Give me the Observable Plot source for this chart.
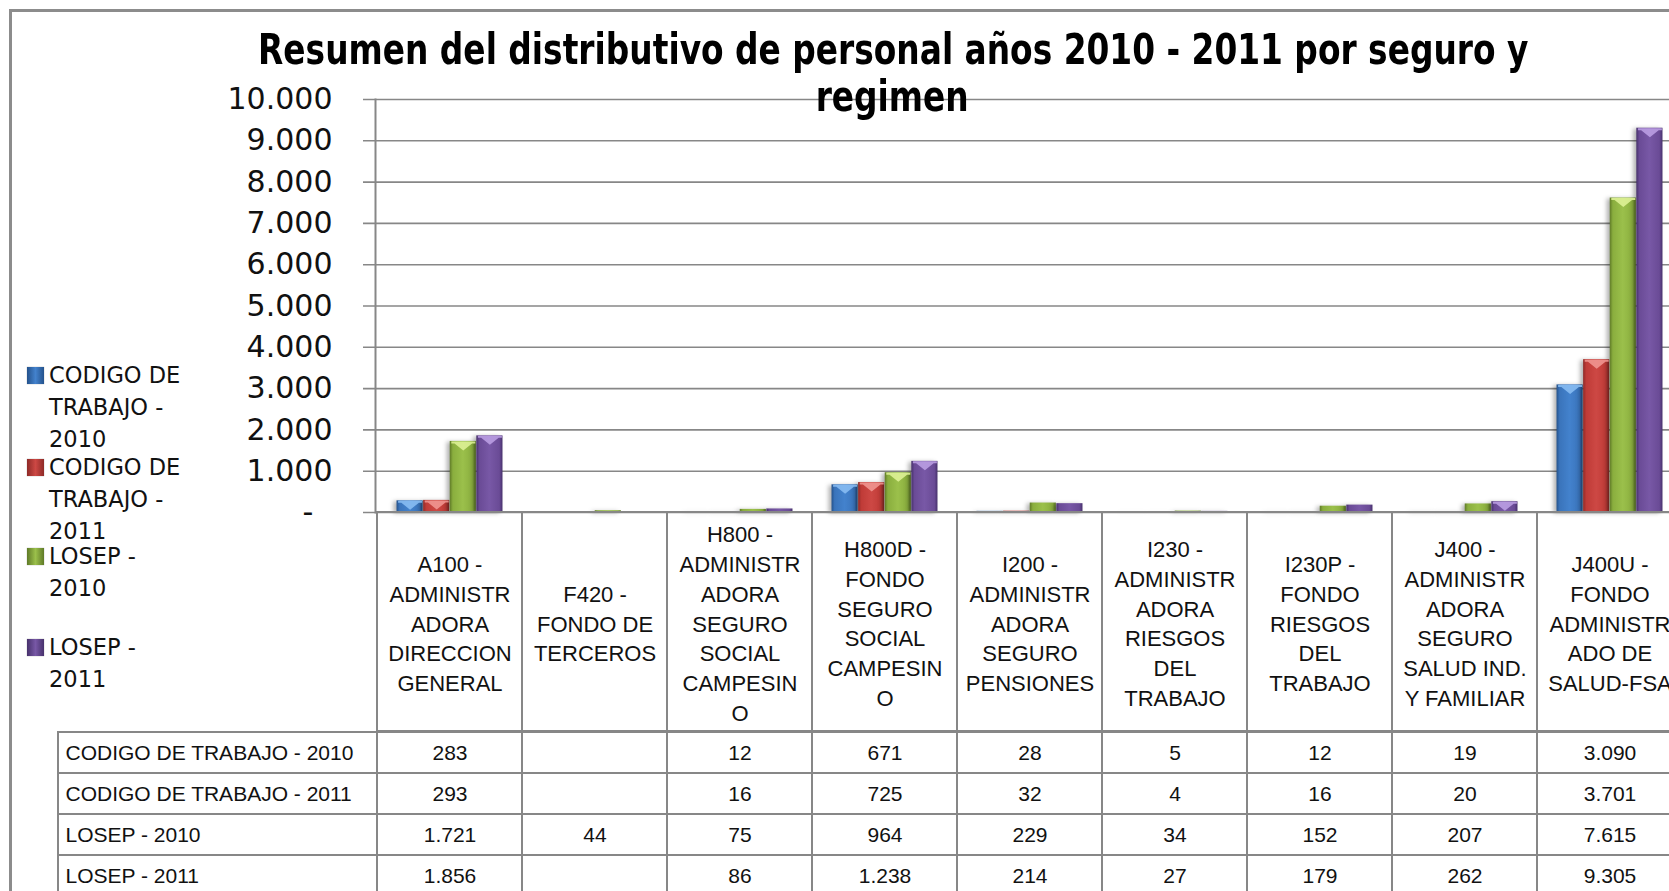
<!DOCTYPE html>
<html><head><meta charset="utf-8">
<script src="https://cdn.jsdelivr.net/npm/d3@7"></script>
<script src="https://cdn.jsdelivr.net/npm/@observablehq/plot@0.6"></script>
<style>
html,body{margin:0;padding:0;background:#fff;}
#wrap{position:relative;width:1669px;height:891px;overflow:hidden;background:#fff;}
#border{position:absolute;left:9px;top:9px;width:2000px;height:2000px;border-left:3px solid #8c8c8c;border-top:3px solid #8c8c8c;}
.pl{position:absolute;left:0;width:1700px;}
.tline{position:absolute;white-space:nowrap;font-family:"Liberation Sans Narrow","DejaVu Sans Condensed","Liberation Sans",sans-serif;font-weight:bold;font-size:43px;line-height:38px;height:38px;color:#000;transform-origin:center center;}
.leg{position:absolute;font-family:"DejaVu Sans",sans-serif;font-size:22.5px;line-height:24px;height:24px;color:#111;white-space:nowrap;}
.sw{position:absolute;width:17px;height:17px;box-shadow:0 0 1px rgba(0,0,0,.4);}
#p1 g[aria-label="bar"]{filter:drop-shadow(-3px 1px 2px rgba(0,0,0,.3));}
</style></head>
<body>
<svg width="0" height="0" style="position:absolute">
<defs>
<linearGradient id="g0" x1="0" x2="1" y1="0" y2="0"><stop offset="0" stop-color="#24528c"/><stop offset="0.12" stop-color="#3a74bb"/><stop offset="0.5" stop-color="#4382cd"/><stop offset="0.88" stop-color="#3a74bb"/><stop offset="1" stop-color="#24528c"/></linearGradient>
<linearGradient id="g1" x1="0" x2="1" y1="0" y2="0"><stop offset="0" stop-color="#8e2a27"/><stop offset="0.12" stop-color="#bf3b37"/><stop offset="0.5" stop-color="#cd4844"/><stop offset="0.88" stop-color="#bf3b37"/><stop offset="1" stop-color="#8e2a27"/></linearGradient>
<linearGradient id="g2" x1="0" x2="1" y1="0" y2="0"><stop offset="0" stop-color="#5f7a27"/><stop offset="0.12" stop-color="#8aae3e"/><stop offset="0.5" stop-color="#9bc04b"/><stop offset="0.88" stop-color="#8aae3e"/><stop offset="1" stop-color="#5f7a27"/></linearGradient>
<linearGradient id="g3" x1="0" x2="1" y1="0" y2="0"><stop offset="0" stop-color="#47316c"/><stop offset="0.12" stop-color="#6a4b96"/><stop offset="0.5" stop-color="#7858a6"/><stop offset="0.88" stop-color="#6a4b96"/><stop offset="1" stop-color="#47316c"/></linearGradient>
</defs>
</svg>
<div id="wrap"><div id="border"></div></div>
<script>
// ---------- data ----------
const categories = ["A100","F420","H800","H800D","I200","I230","I230P","J400","J400U"];
const categoryLabels = [
  "A100 -\nADMINISTR\nADORA\nDIRECCION\nGENERAL",
  "F420 -\nFONDO DE\nTERCEROS",
  "H800 -\nADMINISTR\nADORA\nSEGURO\nSOCIAL\nCAMPESIN\nO",
  "H800D -\nFONDO\nSEGURO\nSOCIAL\nCAMPESIN\nO",
  "I200 -\nADMINISTR\nADORA\nSEGURO\nPENSIONES",
  "I230 -\nADMINISTR\nADORA\nRIESGOS\nDEL\nTRABAJO",
  "I230P -\nFONDO\nRIESGOS\nDEL\nTRABAJO",
  "J400 -\nADMINISTR\nADORA\nSEGURO\nSALUD IND.\nY FAMILIAR",
  "J400U -\nFONDO\nADMINISTR\nADO DE\nSALUD-FSA"
];
const seriesNames = ["CODIGO DE TRABAJO - 2010","CODIGO DE TRABAJO - 2011","LOSEP - 2010","LOSEP - 2011"];
const legendLines = [["CODIGO DE","TRABAJO -","2010"],["CODIGO DE","TRABAJO -","2011"],["LOSEP -","2010"],["LOSEP -","2011"]];
const codigo2010 = [283, null, 12, 671, 28, 5, 12, 19, 3090];
const codigo2011 = [293, null, 16, 725, 32, 4, 16, 20, 3701];
const losep2010  = [1721, 44, 75, 964, 229, 34, 152, 207, 7615];
const losep2011  = [1856, null, 86, 1238, 214, 27, 179, 262, 9305];
const yTicks = [0,1000,2000,3000,4000,5000,6000,7000,8000,9000,10000];
const titleLines = ["Resumen del distributivo de personal años 2010 - 2011 por seguro y","regimen"];

const seriesValues = [codigo2010, codigo2011, losep2010, losep2011];
const fills = ["url(#g0)","url(#g1)","url(#g2)","url(#g3)"];
const swatchCss = [
  "linear-gradient(90deg,#24528c,#4382cd 50%,#24528c)",
  "linear-gradient(90deg,#8e2a27,#cd4844 50%,#8e2a27)",
  "linear-gradient(90deg,#5f7a27,#9bc04b 50%,#5f7a27)",
  "linear-gradient(90deg,#47316c,#7858a6 50%,#47316c)"];
const chevronFill = ["#8cc0f5","#f29a95","#e2f59a","#bea2e6"];

const rows = [];
seriesNames.forEach((s, i) => categories.forEach((c, j) => rows.push({series: s, si: i, cat: c, value: seriesValues[i][j]})));

const loc = d3.formatLocale({decimal: ",", thousands: ".", grouping: [3], currency: ["$", ""]});
const fmt = loc.format(",d");

// ---------- layout ----------
const W = 1700, LEFT = 375, RIGHT = 1684;
const B = (RIGHT - LEFT) / categories.length;
const BW = 26.6, PAD = (B - 4 * BW) / 2;
const GRID = "#878787";
const wrap = document.getElementById("wrap");

const chevron = {draw(ctx) {
  ctx.moveTo(-12, 0); ctx.lineTo(12, 0); ctx.lineTo(12, 2); ctx.lineTo(-12, 2); ctx.closePath();
  ctx.moveTo(-10, 1); ctx.lineTo(10, 1); ctx.lineTo(0, 9); ctx.closePath();
}};

// ---------- Plot 1 : bars ----------
const barMarks = [];
seriesNames.forEach((s, i) => {
  const d = rows.filter(r => r.si === i && r.value != null);
  barMarks.push(Plot.barY(d, {x: "cat", y: "value", fill: fills[i], insetLeft: PAD + i * BW, insetRight: PAD + (3 - i) * BW}));
});
seriesNames.forEach((s, i) => {
  const d = rows.filter(r => r.si === i && r.value != null && r.value >= 250);
  barMarks.push(Plot.dot(d, {x: "cat", y: "value", symbol: chevron, r: 5, fill: chevronFill[i], fillOpacity: 0.85, stroke: null, dx: PAD + (i + 0.5) * BW - B / 2}));
});

const p1 = Plot.plot({
  width: W, height: 513,
  marginLeft: LEFT, marginRight: W - RIGHT, marginTop: 99, marginBottom: 1,
  style: {fontFamily: "DejaVu Sans, sans-serif", fontSize: "30px", color: "#111", background: "transparent", overflow: "visible"},
  x: {domain: categories, padding: 0, axis: null},
  y: {domain: [0, 10000], axis: null},
  marks: [
    Plot.ruleY(yTicks, {stroke: GRID, strokeWidth: 1.6, insetLeft: -12}),
    Plot.axisY(yTicks, {tickSize: 0, tickPadding: 43, label: null, fontSize: 30,
      tickFormat: d => d === 0 ? "-\u00a0\u00a0" : fmt(d)}),
    ...barMarks,
    Plot.frame({anchor: "left", stroke: GRID, strokeWidth: 2})
  ]
});
const d1 = document.createElement("div"); d1.className = "pl"; d1.id = "p1"; d1.style.top = "0px";
d1.appendChild(p1); wrap.appendChild(d1);

// ---------- Plot 2 : header row of the data table ----------
const p2 = Plot.plot({
  width: W, height: 221,
  marginLeft: LEFT, marginRight: W - RIGHT, marginTop: 1, marginBottom: 1,
  style: {fontFamily: "Liberation Sans, Arial, sans-serif", fontSize: "22px", color: "#111", background: "transparent"},
  x: {domain: categories, padding: 0, axis: null},
  marks: [
    Plot.cell(categories, {x: d => d, fill: "none", stroke: GRID, strokeWidth: 2}),
    Plot.text(categories, {x: d => d, text: (d, i) => categoryLabels[i], lineHeight: 1.355, fontSize: 22, fill: "#111"})
  ]
});
const d2 = document.createElement("div"); d2.className = "pl"; d2.style.top = "511px";
d2.appendChild(p2); wrap.appendChild(d2);

// ---------- Plot 3 : value rows ----------
const p3 = Plot.plot({
  width: W, height: 168,
  marginLeft: 58, marginRight: W - RIGHT, marginTop: 1, marginBottom: 2,
  style: {fontFamily: "Liberation Sans, Arial, sans-serif", fontSize: "21px", color: "#111", background: "transparent"},
  x: {domain: categories, range: [LEFT, RIGHT], padding: 0, axis: null},
  y: {domain: seriesNames, padding: 0, axis: null},
  marks: [
    Plot.cell(seriesNames, {y: d => d, fill: "none", stroke: GRID, strokeWidth: 2}),
    Plot.cell(rows, {x: "cat", y: "series", fill: "none", stroke: GRID, strokeWidth: 2}),
    Plot.text(rows.filter(r => r.value != null), {x: "cat", y: "series", text: r => fmt(r.value), fontSize: 21, fill: "#111"}),
    Plot.text(seriesNames, {y: d => d, text: d => d, frameAnchor: "left", textAnchor: "start", dx: 7, fontSize: 21, fill: "#111"})
  ]
});
const d3div = document.createElement("div"); d3div.className = "pl"; d3div.style.top = "730px";
d3div.appendChild(p3); wrap.appendChild(d3div);

// ---------- title ----------
const tCenters = [893, 892], tTops = [30, 77];
const tEls = titleLines.map((t, k) => {
  const el = document.createElement("div"); el.className = "tline"; el.textContent = t;
  el.style.top = tTops[k] + "px"; wrap.appendChild(el); return el;
});
const sc = 1270 / tEls[0].offsetWidth;
tEls.forEach((el, k) => {
  el.style.left = (tCenters[k] - el.offsetWidth / 2) + "px";
  el.style.transform = `scaleX(${sc})`;
});

// ---------- legend ----------
const legTops = [375, 467, 556, 647], LG = 32;
legendLines.forEach((lines, i) => {
  const sw = document.createElement("div"); sw.className = "sw";
  sw.style.left = "27px"; sw.style.top = (legTops[i] - 8.5) + "px"; sw.style.background = swatchCss[i];
  wrap.appendChild(sw);
  lines.forEach((ln, k) => {
    const el = document.createElement("div"); el.className = "leg"; el.textContent = ln;
    el.style.left = "49px"; el.style.top = (legTops[i] + k * LG - 12) + "px";
    wrap.appendChild(el);
  });
});
</script>
</body></html>
